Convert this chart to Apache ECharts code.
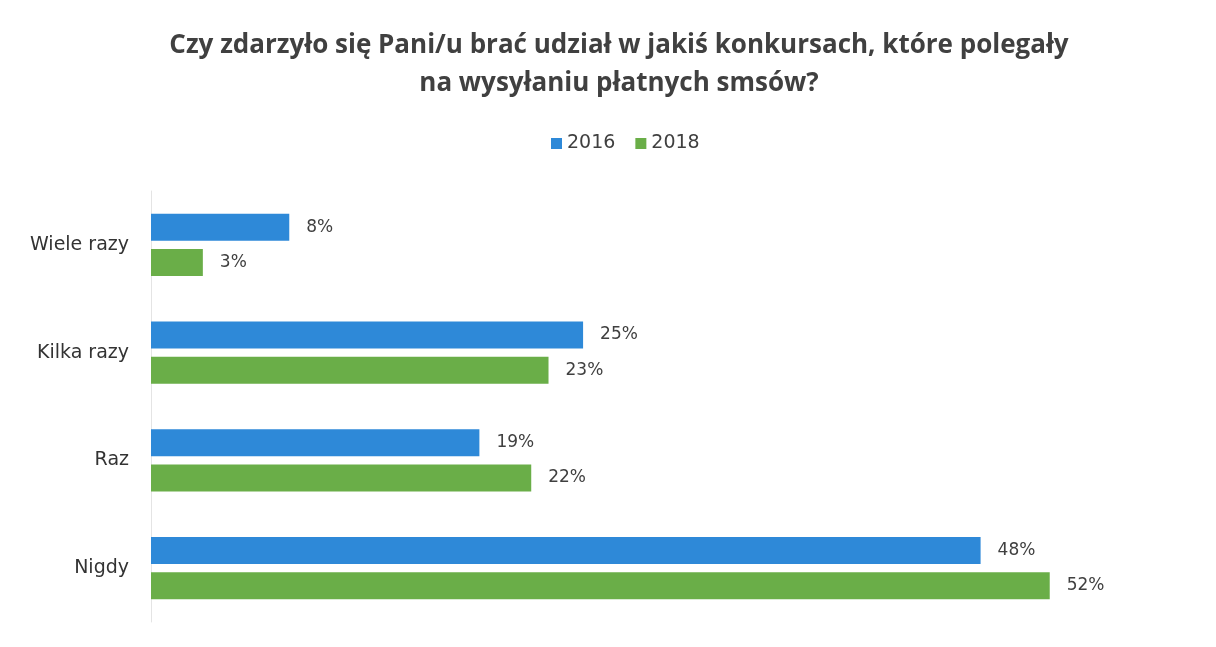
<!DOCTYPE html>
<html>
<head>
<meta charset="utf-8">
<script src="https://cdn.jsdelivr.net/npm/echarts@6/dist/echarts.min.js"></script>
<style>
    html, body { margin: 0; padding: 0; background: #fff; }
    #bar { width: 1216px; height: 647px; }
</style>
</head>
<body>
<div id="bar"></div>
<script>
    var categories = ['Wiele razy', 'Kilka razy', 'Raz', 'Nigdy'];
    var data2016 = [8, 25, 19, 48];
    var data2018 = [3, 23, 22, 52];

    var myChart = echarts.init(document.getElementById('bar'));

    var labelStyle = {
        show: true,
        position: 'right',
        distance: 17,
        formatter: '{c}%',
        color: '#404040',
        fontSize: 17,
        fontFamily: 'DejaVu Sans'
    };

    option = {
        title: {
            left: 614,
            textAlign: 'center',
            top: 22,
            text: 'Czy zdarzyło się Pani/u brać udział w jakiś konkursach, które polegały\nna wysyłaniu płatnych smsów?',
            textStyle: {
                fontFamily: 'Open Sans',
                fontWeight: 'bold',
                fontSize: 26,
                lineHeight: 38,
                color: '#404040'
            }
        },
        legend: {
            top: 129,
            left: 546,
            itemWidth: 11,
            itemHeight: 11,
            itemGap: 20,
            icon: 'rect',
            textStyle: { fontSize: 19, color: '#404040', fontFamily: 'DejaVu Sans' },
            data: ['2016', '2018']
        },
        grid: {
            left: 151,
            right: 28,
            top: 191,
            height: 431,
            containLabel: false
        },
        xAxis: {
            type: 'value',
            min: 0,
            max: 60,
            show: false
        },
        yAxis: {
            type: 'category',
            inverse: true,
            data: categories,
            axisLine: { lineStyle: { color: '#e4e4e4' } },
            axisTick: { show: false },
            axisLabel: {
                margin: 22,
                fontSize: 19,
                color: '#333',
                fontFamily: 'DejaVu Sans'
            }
        },
        series: [
            {
                name: '2016',
                type: 'bar',
                barGap: '30%',
                barCategoryGap: '42%',
                itemStyle: { color: '#2e89d8' },
                label: labelStyle,
                data: data2016
            },
            {
                name: '2018',
                type: 'bar',
                barGap: '30%',
                barCategoryGap: '42%',
                itemStyle: { color: '#6aae48' },
                label: labelStyle,
                data: data2018
            }
        ]
    };

    myChart.setOption(option);
</script>
</body>
</html>
